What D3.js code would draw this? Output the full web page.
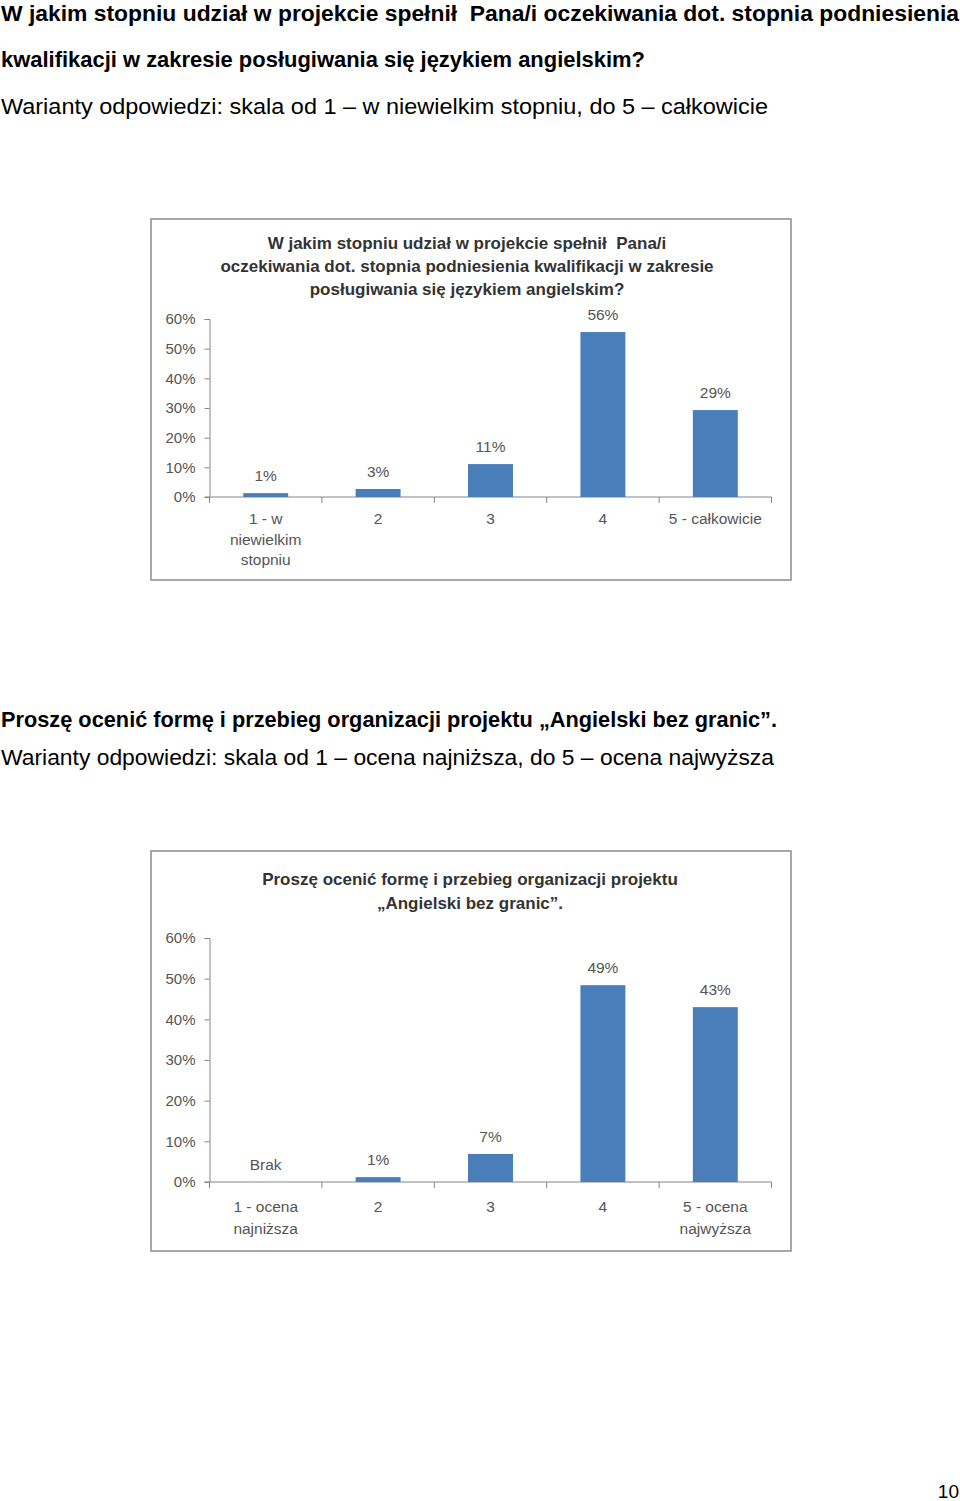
<!DOCTYPE html>
<html>
<head>
<meta charset="utf-8">
<script src="https://cdn.jsdelivr.net/npm/d3@7"></script>
<style>
  body { margin: 0; background: #fff; }
  svg text { font-family: "Liberation Sans Narrow", "Liberation Sans", "DejaVu Sans Condensed", sans-serif; white-space: pre; }
</style>
</head>
<body>
<div id="page"></div>
<script>
// ---- data ----
var cats1 = ["1 - w niewielkim stopniu", "2", "3", "4", "5 - całkowicie"]
var catLines1 = [["1 - w", "niewielkim", "stopniu"], ["2"], ["3"], ["4"], ["5 - całkowicie"]]
var vals1 = [1.3, 2.7, 11.1, 55.6, 29.3]
var labels1 = ["1%", "3%", "11%", "56%", "29%"]
var title1 = ["W jakim stopniu udział w projekcie spełnił  Pana/i",
              "oczekiwania dot. stopnia podniesienia kwalifikacji w zakresie",
              "posługiwania się językiem angielskim?"]

var cats2 = ["1 - ocena najniższa", "2", "3", "4", "5 - ocena najwyższa"]
var catLines2 = [["1 - ocena", "najniższa"], ["2"], ["3"], ["4"], ["5 - ocena", "najwyższa"]]
var vals2 = [0, 1.2, 6.9, 48.4, 43.0]
var labels2 = ["Brak", "1%", "7%", "49%", "43%"]
var title2 = ["Proszę ocenić formę i przebieg organizacji projektu",
              "„Angielski bez granic”."]

var yTicks = [0, 10, 20, 30, 40, 50, 60]

var width = 960, height = 1501

const svg = d3.select("#page")
    .append("svg")
    .attr("width", width)
    .attr("height", height);

svg.append("rect").attr("width", width).attr("height", height).attr("fill", "#fff");

// page text
var pageText = [
    { t: "W jakim stopniu udział w projekcie spełnił  Pana/i oczekiwania dot. stopnia podniesienia", y: 21, w: 958, bold: true },
    { t: "kwalifikacji w zakresie posługiwania się językiem angielskim?", y: 67, w: 644, bold: true },
    { t: "Warianty odpowiedzi: skala od 1 – w niewielkim stopniu, do 5 – całkowicie", y: 114, w: 767, bold: false },
    { t: "Proszę ocenić formę i przebieg organizacji projektu „Angielski bez granic”.", y: 727, w: 776, bold: true },
    { t: "Warianty odpowiedzi: skala od 1 – ocena najniższa, do 5 – ocena najwyższa", y: 765, w: 773, bold: false }
]
pageText.forEach(d => {
    svg.append("text")
        .attr("x", 1)
        .attr("y", d.y)
        .attr("textLength", d.w)
        .attr("lengthAdjust", "spacingAndGlyphs")
        .style("font-size", "22px")
        .style("font-weight", d.bold ? "bold" : "normal")
        .style("fill", "#000")
        .text(d.t)
})

svg.append("text")
    .attr("x", 959).attr("y", 1498)
    .attr("text-anchor", "end")
    .style("font-size", "19px")
    .text("10")

function drawChart(opt) {
    // frame
    svg.append("rect")
        .attr("x", opt.box[0]).attr("y", opt.box[1])
        .attr("width", opt.box[2]).attr("height", opt.box[3])
        .attr("fill", "#fff")
        .attr("stroke", "#8c8c8c")
        .attr("stroke-width", 1.5);

    // title
    opt.title.forEach((line, i) => {
        svg.append("text")
            .attr("x", opt.titleX)
            .attr("y", opt.titleY + i * opt.titleGap)
            .attr("text-anchor", "middle")
            .style("font-size", "17px")
            .style("font-weight", "bold")
            .style("fill", "#333")
            .text(line)
    })

    var g = svg.append("g")
        .attr("transform", "translate(" + opt.left + "," + opt.top + ")");

    var x = d3.scaleBand()
        .domain(opt.cats)
        .range([0, opt.w])
        .paddingInner(0.6)
        .paddingOuter(0.3);

    var y = d3.scaleLinear()
        .domain([0, 60])
        .range([opt.h, 0]);

    // y axis
    var ya = g.append("g")
        .call(d3.axisLeft(y).tickValues(yTicks).tickFormat(d => d + "%").tickSize(5).tickPadding(9));
    ya.select(".domain").attr("stroke", "#868686").attr("d", "M-5,0.5H0.5V" + opt.h + "H-5");
    ya.selectAll(".tick line").attr("stroke", "#868686");
    ya.selectAll(".tick text")
        .style("font-size", "15px").style("fill", "#555")
        .style("font-family", "'Liberation Sans Narrow', 'Liberation Sans', sans-serif");

    // x axis with ticks at band boundaries
    var xa = g.append("g").attr("transform", "translate(0," + opt.h + ")");
    xa.append("line").attr("x1", 0).attr("x2", opt.w).attr("stroke", "#868686");
    var bounds = opt.cats.map((c, i) => x(c) - x.step() * x.paddingInner() / 2).concat([opt.w]);
    xa.selectAll("line.t").data(bounds).join("line")
        .attr("class", "t")
        .attr("x1", d => d).attr("x2", d => d)
        .attr("y1", 0).attr("y2", 6)
        .attr("stroke", "#868686");

    opt.cats.forEach((c, i) => {
        var t = xa.append("text")
            .attr("x", x(c) + x.bandwidth() / 2)
            .attr("y", opt.catY)
            .attr("text-anchor", "middle")
            .style("font-size", "15.5px")
            .style("fill", "#555");
        opt.catLines[i].forEach((ln, j) => {
            t.append("tspan")
                .attr("x", x(c) + x.bandwidth() / 2)
                .attr("dy", j == 0 ? 0 : opt.catGap)
                .text(ln)
        })
    })

    // bars
    g.selectAll("rect.bar")
        .data(opt.vals)
        .join("rect")
        .attr("class", "bar")
        .attr("x", (d, i) => x(opt.cats[i]))
        .attr("width", x.bandwidth())
        .attr("y", d => y(d))
        .attr("height", d => opt.h - y(d))
        .attr("fill", "#4a7ebb");

    // value labels
    g.selectAll("text.lbl")
        .data(opt.vals)
        .join("text")
        .attr("class", "lbl")
        .attr("x", (d, i) => x(opt.cats[i]) + x.bandwidth() / 2)
        .attr("y", d => y(d) - 12)
        .attr("text-anchor", "middle")
        .style("font-size", "15.5px")
        .style("fill", "#555")
        .text((d, i) => opt.labels[i]);
}

drawChart({
    box: [151, 219, 640, 361],
    title: title1, titleX: 467, titleY: 249, titleGap: 23,
    left: 209.5, top: 319, w: 562, h: 178,
    cats: cats1, catLines: catLines1, vals: vals1, labels: labels1,
    catY: 27, catGap: 20.5
})

drawChart({
    box: [151, 851, 640, 400],
    title: title2, titleX: 470, titleY: 885, titleGap: 24,
    left: 209.5, top: 938, w: 562, h: 244,
    cats: cats2, catLines: catLines2, vals: vals2, labels: labels2,
    catY: 30, catGap: 22
})
</script>
</body>
</html>
